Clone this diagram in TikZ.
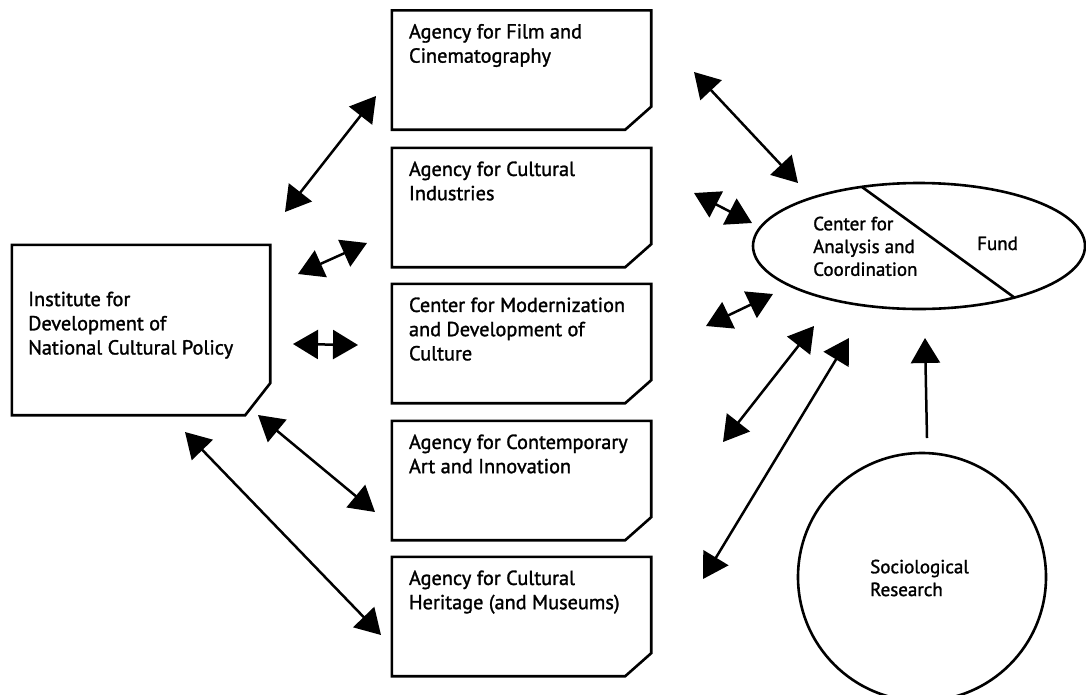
\documentclass[tikz,border=0pt]{standalone}
\usepackage{fontspec}
\setmainfont{PT Sans}[RawFeature={embolden=1.4}]
\usetikzlibrary{arrows.meta,shapes.geometric}
\newcommand\cutframe[3]{\draw[frame] (#1.north west) -- (#1.north east) -- ([yshift=#3]#1.south east) -- ([xshift=-#2]#1.south east) -- (#1.south west) -- cycle;}
\begin{document}
\begin{tikzpicture}[x=1pt,y=-1pt,
  frame/.style={draw=black, line width=2.6pt, line join=miter},
  boxarea/.style={inner sep=0pt, minimum width=259pt, minimum height=119pt},
  boxtext/.style={anchor=north west, align=left, inner sep=0pt, font=\fontsize{20.3}{24.2}\selectfont},
  smalltext/.style={anchor=north west, align=left, inner sep=0pt, font=\fontsize{19}{22.8}\selectfont},
  headtip/.tip={Triangle[length=25pt,width=29pt]},
  link/.style={line width=2.5pt, headtip-headtip},
  onelink/.style={line width=2.5pt, -headtip},
  roundshape/.style={draw=black, line width=2.6pt, inner sep=0pt}
]
\useasboundingbox (0,0) rectangle (1086,694);
\fill[white] (0,0) rectangle (1086,694);

% left box
\node[boxarea, minimum width=258pt, minimum height=170pt] (inst) at (141,330) {};
\cutframe{inst}{25pt}{32pt}
\node[boxtext] (tinst) at (28,291.5) {Institute for\\Development of\\National Cultural Policy};

% middle boxes
\node[boxarea] (b1) at (521.5,70) {};
\node[boxarea] (b2) at (521.5,207.5) {};
\node[boxarea] (b3) at (521.5,343.5) {};
\node[boxarea] (b4) at (521.5,480.5) {};
\node[boxarea] (b5) at (521.5,616.5) {};
\foreach \b in {b1,b2,b3,b4,b5}{\cutframe{\b}{26pt}{23pt}}
\node[boxtext] (t1) at ([xshift=17pt,yshift=-13.5pt]b1.north west) {Agency for Film and\\Cinematography};
\node[boxtext] (t2) at ([xshift=17pt,yshift=-13.5pt]b2.north west) {Agency for Cultural\\Industries};
\node[boxtext] (t3) at ([xshift=17pt,yshift=-13.5pt]b3.north west) {Center for Modernization\\and Development of\\Culture};
\node[boxtext] (t4) at ([xshift=17pt,yshift=-13.5pt]b4.north west) {Agency for Contemporary\\Art and Innovation};
\node[boxtext] (t5) at ([xshift=17pt,yshift=-13.5pt]b5.north west) {Agency for Cultural\\Heritage (and Museums)};

% ellipse
\node[roundshape, ellipse, minimum width=332pt, minimum height=126pt] (cac) at (919,246) {};
\coordinate (d1) at (862,187);
\coordinate (d2) at (1015,298);
\draw[line width=2.6pt] (d1) -- (d2);
\node[smalltext] (tcac) at (813,216.5) {Center for\\Analysis and\\Coordination};
\node[smalltext] (tfund) at (977,236.5) {Fund};

% circle
\node[roundshape, circle, minimum size=248pt] (soc) at (922,577) {};
\node[smalltext] (tsoc) at (870,559.5) {Sociological\\Research};

% arrow end points
\coordinate (a1s) at (376,96);  \coordinate (a1e) at (285,212);
\coordinate (a2s) at (367,243); \coordinate (a2e) at (298,274);
\coordinate (a3s) at (293,344); \coordinate (a3e) at (358,345);
\coordinate (a4s) at (258,415); \coordinate (a4e) at (375,512);
\coordinate (a5s) at (185,432); \coordinate (a5e) at (381,635);
\coordinate (a6s) at (694,72);  \coordinate (a6e) at (798,183);
\coordinate (a7s) at (694,193); \coordinate (a7e) at (752,223);
\coordinate (a8s) at (706,326); \coordinate (a8e) at (773,294);
\coordinate (a9s) at (723,442); \coordinate (a9e) at (814,326);
\coordinate (a10s) at (703,579); \coordinate (a10e) at (849,338);
\coordinate (ups) at (927,438); \coordinate (upe) at (925,338);

\foreach \n in {1,...,10}{\draw[link] (a\n s) -- (a\n e);}
\draw[onelink] (ups) -- (upe);
\end{tikzpicture}
\end{document}
